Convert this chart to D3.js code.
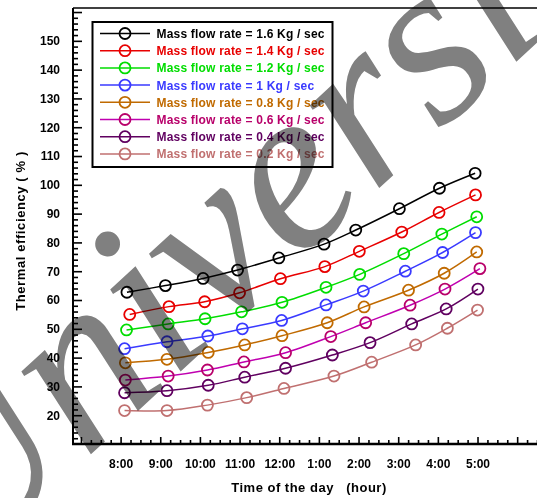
<!DOCTYPE html>
<html>
<head>
<meta charset="utf-8">
<script src="https://cdn.jsdelivr.net/npm/d3@7"></script>
<style>
  body { margin: 0; background: #fff; }
  svg { display: block; font-family: "Liberation Sans", Arial, sans-serif; }
</style>
</head>
<body>
<div id="app"></div>
<script>
// series names (legend order)
let seriesNames = ["Mass flow rate = 1.6 Kg / sec", "Mass flow rate = 1.4 Kg / sec",
    "Mass flow rate = 1.2 Kg / sec", "Mass flow rate = 1 Kg / sec",
    "Mass flow rate = 0.8 Kg / sec", "Mass flow rate = 0.6 Kg / sec",
    "Mass flow rate = 0.4 Kg / sec", "Mass flow rate = 0.2 Kg / sec"];
let lineColors = ["#000000", "#e80000", "#00dd00", "#3a3aff", "#c06a00", "#c000b0", "#600060", "#c07070"];
let markColors = ["#000000", "#e80000", "#00dd00", "#3a3aff", "#c06a00", "#b8006a", "#600060", "#c07070"];

// time of day (decimal hour) of each point, read per series
let hours16 = [8.16, 9.13, 10.08, 10.95, 11.99, 13.13, 13.93, 15.03, 16.04, 16.94];
let hours14 = [8.23, 9.22, 10.12, 11.00, 12.03, 13.15, 14.02, 15.09, 16.03, 16.95];
let hours12 = [8.15, 9.20, 10.13, 11.05, 12.07, 13.18, 14.03, 15.14, 16.10, 16.98];
let hours10 = [8.10, 9.17, 10.20, 11.07, 12.06, 13.18, 14.12, 15.18, 16.12, 16.95];
let hours08 = [8.12, 9.17, 10.21, 11.13, 12.07, 13.21, 14.14, 15.26, 16.16, 16.98];
let hours06 = [8.12, 9.20, 10.19, 11.11, 12.16, 13.30, 14.18, 15.30, 16.18, 17.06];
let hours04 = [8.10, 9.17, 10.21, 11.13, 12.16, 13.34, 14.29, 15.34, 16.21, 17.01];
let hours02 = [8.10, 9.17, 10.19, 11.18, 12.12, 13.38, 14.33, 15.44, 16.24, 17.00];

// thermal efficiency (%) of each point
let eff16 = [62.7, 65.0, 67.5, 70.4, 74.6, 79.4, 84.3, 91.7, 98.8, 104.0];
let eff14 = [55.0, 57.7, 59.4, 62.5, 67.4, 71.6, 76.9, 83.6, 90.4, 96.5];
let eff12 = [49.6, 51.7, 53.5, 55.9, 59.2, 64.4, 68.9, 76.1, 82.9, 88.9];
let eff10 = [43.1, 45.5, 47.5, 50.0, 52.9, 58.3, 63.1, 70.0, 76.5, 83.4];
let eff08 = [38.2, 39.4, 41.8, 44.4, 47.6, 52.1, 57.6, 63.4, 69.3, 76.7];
let eff06 = [32.2, 33.6, 35.7, 38.5, 41.7, 47.3, 52.1, 58.2, 63.8, 70.9];
let eff04 = [27.8, 28.5, 30.4, 33.2, 36.3, 40.9, 45.2, 51.7, 56.9, 63.8];
let eff02 = [21.6, 21.6, 23.5, 26.1, 29.3, 33.6, 38.4, 44.4, 50.2, 56.5];

let hoursAll = [hours16, hours14, hours12, hours10, hours08, hours06, hours04, hours02];
let effAll = [eff16, eff14, eff12, eff10, eff08, eff06, eff04, eff02];

// ticks
let xMajor = [7, 8, 9, 10, 11, 12, 13, 14, 15, 16, 17, 18];
let xLabelled = [8, 9, 10, 11, 12, 13, 14, 15, 16, 17];
let yMajor = [20, 30, 40, 50, 60, 70, 80, 90, 100, 110, 120, 130, 140, 150, 160];
let yLabelled = [20, 30, 40, 50, 60, 70, 80, 90, 100, 110, 120, 130, 140, 150];

let W = 537, H = 498;
let mLeft = 73, mRight = 537, mTop = 8, mBottom = 444;

let svg = d3.select("#app")
.append("svg")
    .attr("width", W)
    .attr("height", H)

let x = d3.scaleLinear().domain([6.8, 18.5]).range([mLeft, mRight]);
let y = d3.scaleLinear().domain([10, 161.4]).range([mBottom, mTop]);

// minor ticks
let xMinor = d3.range(7, 18.51, 0.25).filter(d => Math.abs(d - Math.round(d)) > 0.01);
let yMinor = d3.range(12, 161, 2).filter(d => d % 10 !== 0);

// x axis
let gx = svg.append("g")
    .attr("transform", "translate(0," + mBottom + ")")
gx.call(d3.axisBottom(x).tickValues(xMinor).tickSize(-4).tickFormat(""))
gx.select(".domain").remove()
let gx2 = svg.append("g")
    .attr("transform", "translate(0," + mBottom + ")")
    .call(d3.axisBottom(x)
        .tickValues(xMajor)
        .tickSize(-7)
        .tickPadding(15)
        .tickFormat(d => xLabelled.includes(d) ? (d > 12 ? d - 12 : d) + ":00" : ""))
gx2.select(".domain").remove()

// y axis
let gy = svg.append("g")
    .attr("transform", "translate(" + mLeft + ",0)")
gy.call(d3.axisLeft(y).tickValues(yMinor).tickSize(-5).tickFormat(""))
gy.select(".domain").remove()
let gy2 = svg.append("g")
    .attr("transform", "translate(" + mLeft + ",0)")
    .call(d3.axisLeft(y)
        .tickValues(yMajor)
        .tickSize(-9)
        .tickPadding(13)
        .tickFormat(d => yLabelled.includes(d) ? d : ""))
gy2.select(".domain").remove()

svg.selectAll(".tick line").attr("stroke", "#000").attr("stroke-width", 1.6)
svg.selectAll(".tick text")
    .attr("fill", "#000")
    .style("font-size", "12px")
    .style("font-weight", "bold")

// frame
svg.append("line").attr("x1", mLeft).attr("x2", mRight).attr("y1", mTop).attr("y2", mTop)
    .attr("stroke", "#000").attr("stroke-width", 1.5)
svg.append("line").attr("x1", mLeft).attr("x2", mLeft).attr("y1", mTop).attr("y2", mBottom + 1)
    .attr("stroke", "#000").attr("stroke-width", 2)
svg.append("line").attr("x1", mLeft - 1).attr("x2", mRight).attr("y1", mBottom).attr("y2", mBottom)
    .attr("stroke", "#000").attr("stroke-width", 2.5)

// axis titles
svg.append("text")
    .attr("x", 309).attr("y", 492)
    .attr("text-anchor", "middle")
    .style("font-size", "13px").style("font-weight", "bold")
    .style("letter-spacing", "0.5px")
    .style("white-space", "pre")
    .text("Time of the day   (hour)")
svg.append("text")
    .attr("transform", "translate(25,231) rotate(-90)")
    .attr("text-anchor", "middle")
    .style("font-size", "13px").style("font-weight", "bold")
    .style("letter-spacing", "0.6px")
    .text("Thermal efficiency ( % )")

// lines and markers
let line = d3.line()
    .x(d => x(d[0]))
    .y(d => y(d[1]))
    .curve(d3.curveCatmullRom.alpha(0.5));

seriesNames.forEach((name, i) => {
    let pts = hoursAll[i].map((h, j) => [h, effAll[i][j]]);
    svg.append("path")
        .datum(pts)
        .attr("d", line)
        .attr("fill", "none")
        .attr("stroke", lineColors[i])
        .attr("stroke-width", 1.5)
    svg.selectAll(null)
        .data(pts)
        .enter()
        .append("circle")
            .attr("cx", d => x(d[0]))
            .attr("cy", d => y(d[1]))
            .attr("r", 5.5)
            .attr("fill", "none")
            .attr("stroke", markColors[i])
            .attr("stroke-width", 1.8)
})

// legend
let legend = svg.append("g")
legend.append("rect")
    .attr("x", 92.5).attr("y", 22)
    .attr("width", 240).attr("height", 145)
    .attr("fill", "#fff")
    .attr("stroke", "#000").attr("stroke-width", 2)
seriesNames.forEach((name, i) => {
    let ly = 33.5 + i * 17.2;
    legend.append("line")
        .attr("x1", 100).attr("x2", 150).attr("y1", ly).attr("y2", ly)
        .attr("stroke", lineColors[i]).attr("stroke-width", 1.5)
    legend.append("circle")
        .attr("cx", 125).attr("cy", ly).attr("r", 5.5)
        .attr("fill", "none")
        .attr("stroke", markColors[i]).attr("stroke-width", 1.8)
    legend.append("text")
        .attr("x", 156.5).attr("y", ly + 4.5)
        .attr("fill", markColors[i])
        .style("font-size", "12px").style("font-weight", "bold")
        .style("letter-spacing", "0.2px")
        .text(name)
})

// watermark across the picture
svg.append("text")
    .attr("transform", "translate(-40,575) rotate(-42.7)")
    .style("font-family", "'Liberation Serif', 'Times New Roman', serif")
    .style("font-style", "italic")
    .style("font-size", "235px")
    .style("mix-blend-mode", "multiply")
    .attr("fill", "#808080")
    .text("University")
</script>
</body>
</html>
